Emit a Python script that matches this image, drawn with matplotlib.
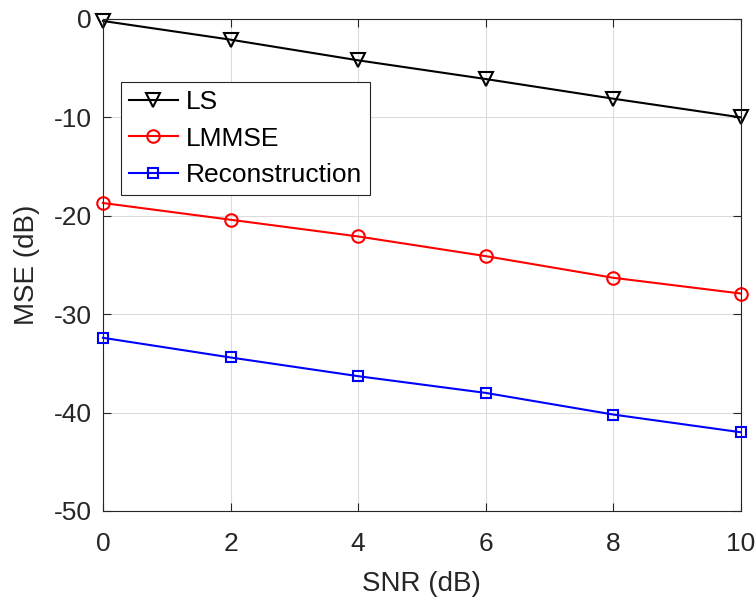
import numpy as np
import matplotlib
matplotlib.use('Agg')
import matplotlib.pyplot as plt

plt.rcParams['font.family'] = ['Liberation Sans', 'DejaVu Sans']

snr = [0, 2, 4, 6, 8, 10]
mse_ls = [-0.2, -2.1, -4.2, -6.1, -8.1, -10.0]
mse_lmmse = [-18.7, -20.4, -22.1, -24.1, -26.3, -27.9]
mse_recon = [-32.4, -34.4, -36.3, -38.0, -40.2, -42.0]

fig = plt.figure(figsize=(7.56, 6.03), dpi=100)
ax = fig.add_axes([0.1362, 0.1526, 0.8438, 0.8159])

ax.plot(snr, mse_ls, color='black', marker='v', markerfacecolor='none',
        markersize=10, markeredgewidth=1.5, linewidth=1.5, label='LS', clip_on=False)
ax.plot(snr, mse_lmmse, color='red', marker='o', markerfacecolor='none',
        markersize=9, markeredgewidth=1.5, linewidth=1.5, label='LMMSE', clip_on=False)
ax.plot(snr, mse_recon, color='blue', marker='s', markerfacecolor='none',
        markersize=7.5, markeredgewidth=1.5, linewidth=1.5, label='Reconstruction',
        clip_on=False)

ax.set_xlim(0, 10)
ax.set_ylim(-50, 0)
ax.set_xticks([0, 2, 4, 6, 8, 10])
ax.set_yticks([-50, -40, -30, -20, -10, 0])
ax.set_yticklabels(['-50', '-40', '-30', '-20', '-10', '0'])
ax.tick_params(direction='in', top=True, right=True, labelsize=19, length=6,
               width=0.8, colors='#262626')
ax.tick_params(axis='x', pad=15)
ax.tick_params(axis='y', pad=8)
ax.grid(True, color='#dcdcdc', linewidth=0.8)
for s in ax.spines.values():
    s.set_color('#262626')
    s.set_linewidth(0.8)

ax.set_xlabel('SNR (dB)', fontsize=20, color='#262626', labelpad=11)
ax.set_ylabel('MSE (dB)', fontsize=20, color='#262626', labelpad=10)

leg = ax.legend(loc='upper left', bbox_to_anchor=(0.028, 0.872), fontsize=19,
                fancybox=False, framealpha=1, edgecolor='#262626',
                handlelength=1.85, handletextpad=0.3, borderpad=0.3,
                labelspacing=0.48, borderaxespad=0)
leg.get_frame().set_linewidth(0.8)

fig.savefig('out.png', dpi=100)
